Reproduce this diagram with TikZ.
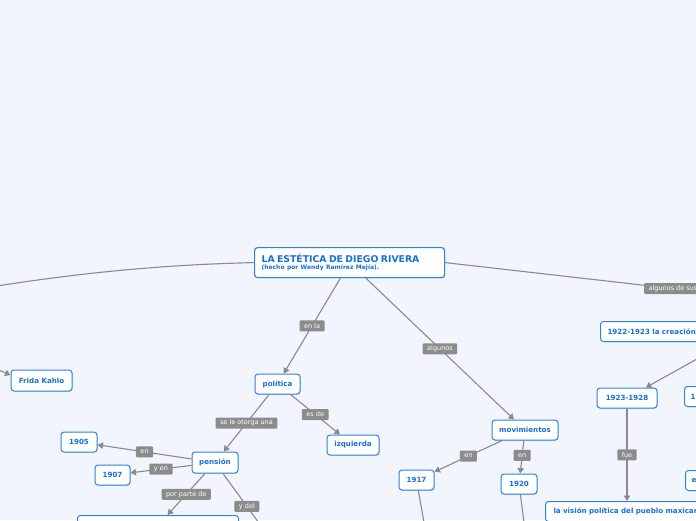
\documentclass[tikz,border=0pt]{standalone}
\usepackage{fontspec}
\setmainfont{DejaVu Sans}
\usetikzlibrary{arrows.meta,shadows}
\definecolor{bg}{HTML}{F2F5FE}
\definecolor{nodeblue}{HTML}{2A84E6}
\definecolor{txtblue}{HTML}{1670D8}
\definecolor{lblgray}{HTML}{8C8C8C}
\definecolor{linegray}{HTML}{8A8A8A}
\begin{document}
\begin{tikzpicture}[x=1pt,y=-1pt,
 box/.style={draw=nodeblue, line width=1pt, fill=white, rounded corners=3pt, text=txtblue,
   font=\fontsize{7.1}{8}\selectfont\bfseries, minimum height=20pt, inner sep=0pt,
   drop shadow={shadow xshift=0.6pt, shadow yshift=-0.8pt, opacity=0.35, fill=black!40}},
 widebox/.style={box, anchor=north west, text width=200pt, align=left, inner xsep=7pt},
 lbl/.style={fill=lblgray, text=white, font=\fontsize{6.5}{7}\selectfont, inner xsep=4.5pt,
   inner ysep=0pt, minimum height=11pt, rounded corners=1pt},
 edge/.style={draw=linegray, line width=1.1pt},
 arr/.style={edge, -{Triangle[length=5.5pt,width=6.5pt]}},
]
\useasboundingbox (0,0) rectangle (696,520);
\clip (0,0) rectangle (696,520);
\fill[bg] (0,0) rectangle (696,520);

% nodes
\node[box, anchor=north west, minimum width=190pt, minimum height=30pt, text width=176pt,
  align=left, inner xsep=7pt, line width=1.2pt] (main) at (254,247)
  {{\fontsize{9.3}{10}\selectfont LA ESTÉTICA DE DIEGO RIVERA}\\[-1pt]
   {\fontsize{6}{7}\selectfont (hecho por Wendy Ramírez Mejía).}};
\node[box, minimum width=45pt] (pol) at (277.5,384) {política};
\node[box, minimum width=52pt] (izq) at (353,445) {izquierda};
\node[box, minimum width=46pt, minimum height=21pt] (pen) at (215,462.5) {pensión};
\node[box, minimum width=36pt] (a1905) at (79,442) {1905};
\node[box, minimum width=35pt] (a1907) at (112.5,475) {1907};
\node[box, anchor=north west, minimum width=161pt] (bot) at (77,515) {};
\node[box, minimum width=66pt] (mov) at (525,430) {movimientos};
\node[box, minimum width=35pt] (a1917) at (416.5,480) {1917};
\node[box, minimum width=36pt] (a1920) at (519,484) {1920};
\node[box, minimum width=61pt, minimum height=21pt] (frida) at (41.5,380.5) {Frida Kahlo};
\node[widebox] (a2223) at (600,321) {1922-1923 la creación};
\node[box, minimum width=60pt] (a2328) at (627,398) {1923-1928};
\node[widebox, inner xsep=6pt] (n1x) at (684,386) {1};
\node[widebox, inner xsep=6pt] (nex) at (685,470) {e};
\node[widebox, inner xsep=8pt] (vis) at (545,501) {la visión política del pueblo maxicano};

% free ends
\coordinate (ydel) at (275,545);
\coordinate (d1917) at (428,545);
\coordinate (d1920) at (527,545);
\coordinate (lt) at (-40,292);
\coordinate (rt) at (800,303);
\coordinate (fs) at (-20,362);
\coordinate (rs) at (740,335);

% connectors
\draw[arr] (main) -- node[lbl]{en la} (pol);
\draw[arr] (main) -- node[lbl]{algunos} (mov);
\draw[arr] (pol) -- node[lbl]{es de} (izq);
\draw[arr] (pol) -- node[lbl]{se le otorga una} (pen);
\draw[arr] (pen) -- node[lbl]{en} (a1905);
\draw[arr] (pen) -- node[lbl]{y en} (a1907);
\draw[arr] (pen) -- node[lbl]{por parte de} (bot);
\draw[arr] (pen) -- node[lbl,pos=0.46]{y del} (ydel);
\draw[arr] (mov) -- node[lbl]{en} (a1917);
\draw[arr] (mov) -- node[lbl,pos=0.45]{en} (a1920);
\draw[arr] (a1917) -- (d1917);
\draw[arr] (a1920) -- (d1920);
\draw[edge] (main.west) .. controls (150,265) and (60,275) .. (lt);
\draw[edge] (main.east) -- node[lbl,pos=0.642]{algunos de sus} (rt);
\draw[arr] (fs) -- (frida.170);
\draw[arr] (rs) -- (a2328);
\draw[arr] (a2328) -- node[lbl]{fue} (a2328 |- vis.north);
\end{tikzpicture}
\end{document}
